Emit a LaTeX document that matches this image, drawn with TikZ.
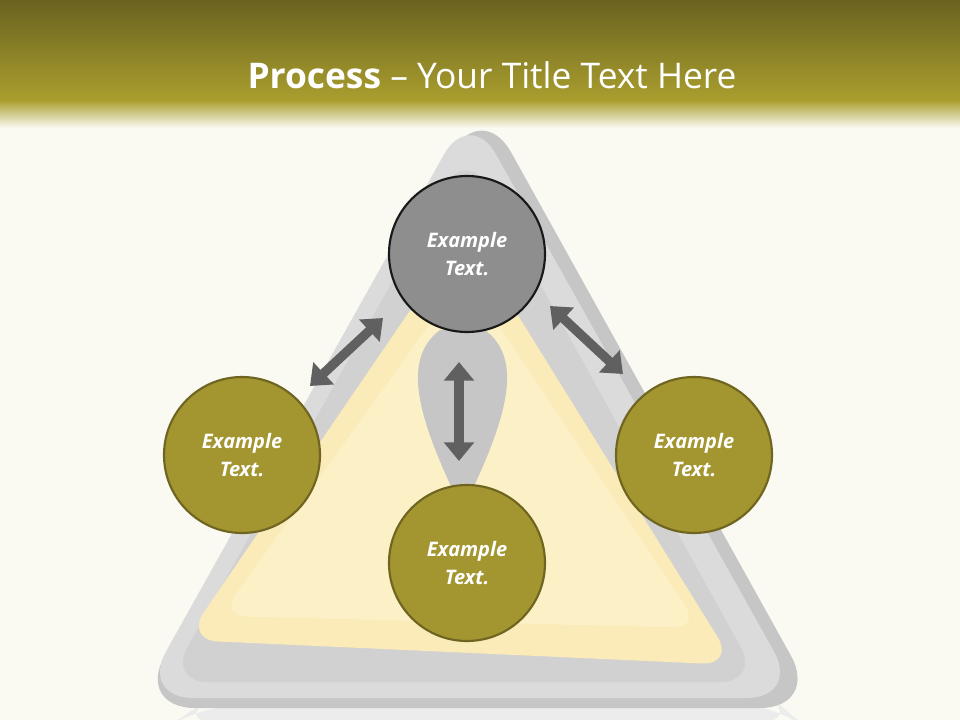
\documentclass[tikz,border=0pt]{standalone}
\usepackage{fontspec}
\setmainfont{Open Sans}
\usetikzlibrary{arrows.meta}
\definecolor{bg}{HTML}{FAFAF3}
\definecolor{olive}{HTML}{A39530}
\definecolor{olivedark}{HTML}{6F6520}
\definecolor{bartop}{HTML}{6A6220}
\definecolor{barmid}{HTML}{A99E2E}
\definecolor{grayc}{HTML}{8E8E8E}
\definecolor{arrowc}{HTML}{606060}
\definecolor{yel1}{HTML}{FAEBB8}
\definecolor{yel2}{HTML}{FCF1C6}
\tikzset{
  circ/.style={circle,minimum size=117pt,draw=olivedark,line width=1.6pt,fill=olive,
    text=white,font=\bfseries\itshape\fontsize{15}{21}\selectfont,align=center},
  dbl/.style={arrowc,line width=7pt,{Triangle[length=14pt,width=22pt]}-{Triangle[length=14pt,width=22pt]}}
}
\begin{document}
\begin{tikzpicture}[x=0.75pt,y=-0.75pt]
\useasboundingbox (0,0) rectangle (960,720);
\fill[bg] (0,0) rectangle (960,720);
\shade[top color=bartop,bottom color=barmid] (0,0) rectangle (960,100);
\shade[top color=barmid,bottom color=bg] (0,100) rectangle (960,128);
% reflection
\fill[gray!15,rounded corners=30pt] (175,722) -- (200,705) -- (780,705) -- (800,722) -- cycle;
% outer triangle
\fill[gray!45,rounded corners=45pt] (482,100) -- (820,708) -- (135,708) -- cycle;
\fill[gray!28,rounded corners=40pt] (470,108) -- (800,698) -- (140,698) -- cycle;
\fill[gray!36,rounded corners=30pt] (466,150) -- (760,682) -- (168,682) -- cycle;
% inner yellow triangle
\fill[yel1,rounded corners=25pt] (465,230) -- (735,665) -- (185,640) -- cycle;
\fill[yel2,rounded corners=20pt] (465,275) -- (700,628) -- (220,616) -- cycle;
% exclamation
\fill[gray!45] (440,330) .. controls (400,360) and (420,420) .. (455,495)
  -- (470,495) .. controls (505,420) and (525,360) .. (485,330) -- cycle;
\node[text=white,font=\fontsize{26.5}{30}\selectfont] (title) at (492,75) {\textbf{Process} – Your Title Text Here};
% circles
\node[circ,fill=grayc,draw=gray!20!black] (top) at (467,254) {Example\\Text.};
\node[circ] (left) at (242,455) {Example\\Text.};
\node[circ] (right) at (694,455) {Example\\Text.};
\node[circ] (bottom) at (467,563) {Example\\Text.};
% arrows
\coordinate (a1) at (383,318); \coordinate (a2) at (310,386);
\coordinate (b1) at (550,306); \coordinate (b2) at (623,374);
\coordinate (v1) at (459,362); \coordinate (v2) at (459,461);
\draw[dbl] (a1) -- (a2);
\draw[dbl] (b1) -- (b2);
\draw[dbl] (v1) -- (v2);
\end{tikzpicture}
\end{document}
